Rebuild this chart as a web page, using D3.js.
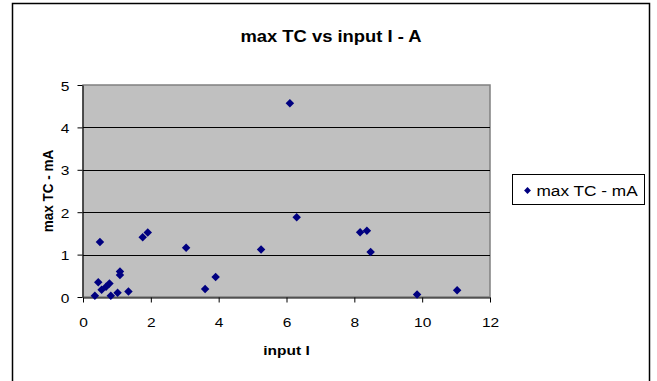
<!DOCTYPE html>
<html>
<head>
<meta charset="utf-8">
<script src="https://cdn.jsdelivr.net/npm/d3@7"></script>
<style>
  body { margin: 0; background: #fff; }
  svg { display: block; font-family: "Liberation Sans", Arial, sans-serif; }
</style>
</head>
<body>
<svg id="chart" width="657" height="381"></svg>
<script>
// values
const inputI = [0.35, 0.45, 0.50, 0.55, 0.68, 0.78, 0.82, 1.02, 1.09, 1.09, 1.34,
                1.76, 1.91, 3.04, 3.60, 3.91, 5.25, 6.10, 6.30, 8.17, 8.37, 8.48, 9.85, 11.03];
const maxTC = [0.03, 0.35, 1.30, 0.17, 0.24, 0.32, 0.03, 0.10, 0.52, 0.60, 0.13,
               1.41, 1.52, 1.16, 0.19, 0.47, 1.12, 4.57, 1.88, 1.53, 1.56, 1.06, 0.06, 0.16];
const xTicks = [0, 2, 4, 6, 8, 10, 12];
const yTicks = [0, 1, 2, 3, 4, 5];
const seriesName = "max TC - mA";

const svg = d3.select("#chart");
const plot = { left: 83, right: 490, top: 85, bottom: 297 };
const sx = 1.15; // the original text is a bit wider than it is tall

// outer chart frame
svg.append("rect")
    .attr("x", 12.5).attr("y", 3.5)
    .attr("width", 637).attr("height", 390)
    .attr("fill", "none")
    .attr("stroke", "#000")
    .attr("stroke-width", 1.5);

const x = d3.scaleLinear().domain([0, 12]).range([plot.left, plot.right]);
const y = d3.scaleLinear().domain([0, 5]).range([plot.bottom, plot.top]);

// plot background
svg.append("rect")
    .attr("x", plot.left).attr("y", plot.top)
    .attr("width", plot.right - plot.left)
    .attr("height", plot.bottom - plot.top)
    .attr("fill", "#c0c0c0")
    .attr("stroke", "#808080")
    .attr("stroke-width", 1.5);

// gridlines
svg.append("g")
    .selectAll("line")
    .data(yTicks.filter(d => d > 0 && d < 5))
    .join("line")
    .attr("x1", plot.left).attr("x2", plot.right)
    .attr("y1", d => Math.round(y(d)) + 0.5)
    .attr("y2", d => Math.round(y(d)) + 0.5)
    .attr("stroke", "#000");

// axes
const xAxis = svg.append("g")
    .attr("transform", `translate(0,${plot.bottom + 0.5})`)
    .call(d3.axisBottom(x).tickValues(xTicks).tickSize(5).tickSizeOuter(0));
const yAxis = svg.append("g")
    .attr("transform", `translate(${plot.left - 0.5},0)`)
    .call(d3.axisLeft(y).tickValues(yTicks).tickFormat(d3.format("d")).tickSize(5).tickSizeOuter(0));

[xAxis, yAxis].forEach(a => {
    a.select(".domain").attr("stroke", "#000");
    a.selectAll(".tick line").attr("stroke", "#000");
    a.selectAll(".tick text")
        .attr("fill", "#000")
        .attr("dy", null)
        .style("font-size", "13.5px")
        .style("font-family", "'Liberation Sans', Arial, sans-serif");
});
xAxis.selectAll(".tick text")
    .attr("y", 0)
    .attr("transform", `translate(0,29) scale(${sx},1)`);
yAxis.selectAll(".tick text")
    .attr("x", 0)
    .attr("transform", `translate(-13,5) scale(${sx},1)`);

// points
const diamond = d3.symbol().type(d3.symbolDiamond2).size(46);
svg.append("g")
    .selectAll("path")
    .data(inputI.map((v, i) => ({ x: v, y: maxTC[i] })))
    .join("path")
    .attr("d", diamond)
    .attr("transform", d => `translate(${x(d.x)},${y(d.y)})`)
    .attr("fill", "#000080");

// title and axis titles
svg.append("text")
    .attr("transform", `translate(331,42) scale(${sx},1)`)
    .attr("text-anchor", "middle")
    .style("font-size", "16px")
    .style("font-weight", "bold")
    .text("max TC vs input I - A");

svg.append("text")
    .attr("transform", `translate(${(plot.left + plot.right) / 2},355) scale(${sx},1)`)
    .attr("text-anchor", "middle")
    .style("font-size", "13.5px")
    .style("font-weight", "bold")
    .text("input I");

svg.append("text")
    .attr("transform", `translate(53,${(plot.top + plot.bottom) / 2}) scale(${sx},1) rotate(-90)`)
    .attr("text-anchor", "middle")
    .style("font-size", "13.5px")
    .style("font-weight", "bold")
    .text(seriesName);

// legend
const legend = svg.append("g").attr("transform", "translate(512.5,174.5)");
legend.append("rect")
    .attr("width", 132).attr("height", 30)
    .attr("fill", "#fff")
    .attr("stroke", "#000");
legend.append("path")
    .attr("d", d3.symbol().type(d3.symbolDiamond2).size(30))
    .attr("transform", "translate(15,16)")
    .attr("fill", "#000080");
legend.append("text")
    .attr("transform", `translate(24,21) scale(${sx},1)`)
    .style("font-size", "15px")
    .text(seriesName);
</script>
</body>
</html>
